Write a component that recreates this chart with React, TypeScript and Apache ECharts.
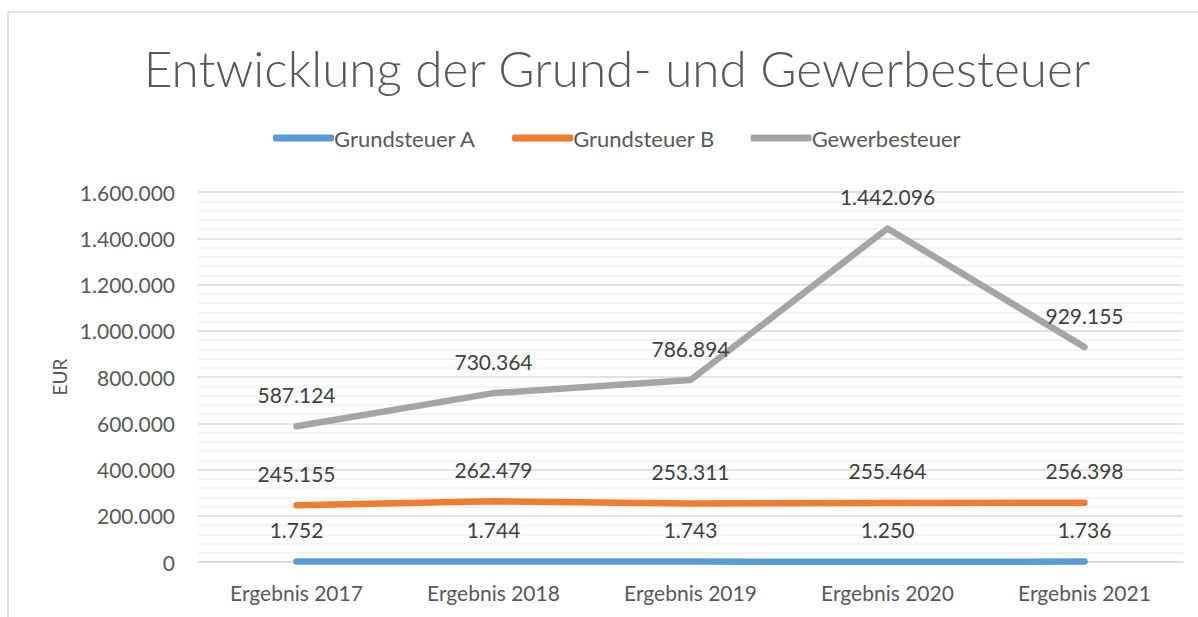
import React, { useEffect, useRef } from "react";
import * as echarts from "echarts";

const categories = ["Ergebnis 2017", "Ergebnis 2018", "Ergebnis 2019", "Ergebnis 2020", "Ergebnis 2021"];
const grundsteuerA = [1752, 1744, 1743, 1250, 1736];
const grundsteuerB = [245155, 262479, 253311, 255464, 256398];
const gewerbesteuer = [587124, 730364, 786894, 1442096, 929155];
const seriesNames = ["Grundsteuer A", "Grundsteuer B", "Gewerbesteuer"];
const colors = ["#5b9bd5", "#ed7d31", "#a5a5a5"];

const FONT = "Lato, 'Open Sans', sans-serif";
const fmt = (v: number) => Math.round(v).toString().replace(/\B(?=(\d{3})+(?!\d))/g, ".");

export default function App() {
  const ref = useRef<HTMLDivElement>(null);
  useEffect(() => {
    document.body.style.margin = "0";
    const chart = echarts.init(ref.current!, undefined, { renderer: "svg" });
    const mk = (name: string, data: number[], color: string) => ({
      name,
      type: "line",
      data,
      symbol: "circle",
      symbolSize: 1,
      showSymbol: true,
      lineStyle: { color, width: 6.5, cap: "round", join: "round" },
      itemStyle: { color },
      label: {
        show: true,
        position: "top",
        distance: 21,
        formatter: (p: any) => fmt(p.value),
        color: "#404040",
        fontSize: 21,
        fontFamily: FONT,
      },
    });
    chart.setOption({
      animation: false,
      backgroundColor: "#ffffff",
      title: {
        text: "Entwicklung der Grund- und Gewerbesteuer",
        left: 612,
        textAlign: "center",
        top: 38,
        textStyle: { color: "#595959", fontSize: 49.5, fontWeight: 300, fontFamily: FONT },
      },
      legend: {
        top: 122,
        left: 268,
        data: seriesNames,
        icon: "roundRect",
        itemWidth: 61,
        itemHeight: 7,
        itemGap: 36,
        textStyle: { color: "#595959", fontSize: 22, fontFamily: FONT, padding: [0, 0, 0, -5] },
      },
      graphic: [
        { type: "line", shape: { x1: 8, y1: 12, x2: 8, y2: 617 }, style: { stroke: "#d9d9d9", lineWidth: 1.5 } },
        { type: "line", shape: { x1: 8, y1: 12, x2: 1198, y2: 12 }, style: { stroke: "#d9d9d9", lineWidth: 1.5 } },
      ],
      grid: { left: 198, right: 15, top: 192, bottom: 55 },
      xAxis: {
        type: "category",
        data: categories,
        boundaryGap: true,
        axisLine: { show: true, lineStyle: { color: "#d9d9d9", width: 1.5 } },
        axisTick: { show: false },
        axisLabel: { color: "#595959", fontSize: 21, fontFamily: FONT, margin: 20 },
      },
      yAxis: {
        type: "value",
        min: 0,
        max: 1600000,
        interval: 200000,
        name: "EUR",
        nameLocation: "middle",
        nameGap: 128,
        nameRotate: 90,
        nameTextStyle: { color: "#595959", fontSize: 19, fontFamily: FONT },
        axisLine: { show: false },
        axisTick: { show: false },
        axisLabel: { color: "#595959", fontSize: 21, fontFamily: FONT, margin: 23, formatter: (v: number) => fmt(v) },
        splitLine: { show: true, lineStyle: { color: "#d9d9d9", width: 1.5 } },
        minorTick: { show: false, splitNumber: 5 },
        minorSplitLine: { show: true, lineStyle: { color: "#f0f0f0", width: 1.5 } },
      },
      series: [
        mk(seriesNames[0], grundsteuerA, colors[0]),
        mk(seriesNames[1], grundsteuerB, colors[1]),
        mk(seriesNames[2], gewerbesteuer, colors[2]),
      ],
    });
    return () => chart.dispose();
  }, []);
  return <div ref={ref} style={{ width: 1198, height: 617 }} />;
}
